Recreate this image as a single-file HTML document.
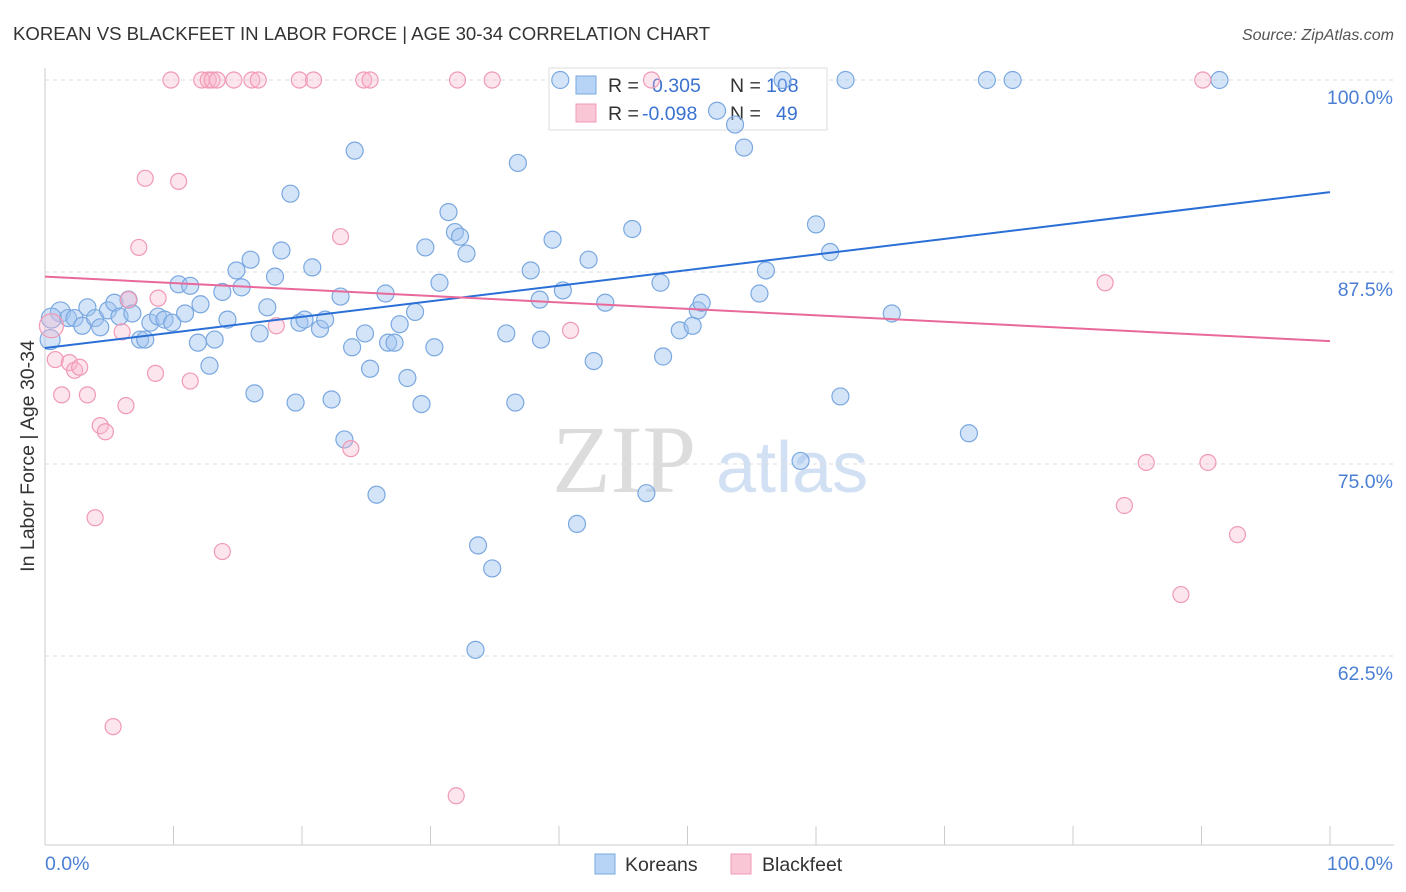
<!DOCTYPE html>
<html><head><meta charset="utf-8"><style>
body{margin:0;background:#fff;}
svg{display:block;font-family:"Liberation Sans",sans-serif;}
</style></head><body>
<svg id="chart" width="1406" height="892" viewBox="0 0 1406 892">
<text x="13" y="40" font-size="18.6" fill="#333">KOREAN VS BLACKFEET IN LABOR FORCE | AGE 30-34 CORRELATION CHART</text>
<text x="1394" y="40" font-size="16" fill="#555" font-style="italic" text-anchor="end">Source: ZipAtlas.com</text>
<g>
<text x="552" y="492" font-size="96" fill="#dcdcdc" font-family="Liberation Serif,serif">ZIP</text>
<text x="716" y="492" font-size="72" fill="#d2e0f4">atlas</text>
</g>
<g id="grid"></g>
<g id="axes"></g>
<g>
<rect x="549" y="68" width="278" height="62" fill="#fff" fill-opacity="0.85" stroke="#ddd"/>
<rect x="576" y="76" width="20" height="18" fill="#b7d3f5" stroke="#7aa8e0"/>
<rect x="576" y="104" width="20" height="18" fill="#f9c6d6" stroke="#f09ab5"/>
<text x="608" y="92" font-size="19.5" fill="#333">R =</text>
<text x="652" y="92" font-size="19.5" fill="#3a72d0">0.305</text>
<text x="730" y="92" font-size="19.5" fill="#333">N =</text>
<text x="766" y="92" font-size="19.5" fill="#3a72d0">108</text>
<text x="608" y="120" font-size="19.5" fill="#333">R =</text>
<text x="642" y="120" font-size="19.5" fill="#3a72d0">-0.098</text>
<text x="730" y="120" font-size="19.5" fill="#333">N =</text>
<text x="776" y="120" font-size="19.5" fill="#3a72d0">49</text>
</g>
<g id="pts"></g>
<g id="trend"></g>
<text x="34" y="456" font-size="19.5" fill="#333" text-anchor="middle" transform="rotate(-90 34 456)">In Labor Force | Age 30-34</text>
<text x="45" y="870" font-size="19.5" fill="#4a7fd4">0.0%</text>
<text x="1393" y="870" font-size="19.5" fill="#4a7fd4" text-anchor="end">100.0%</text>
<g>
<rect x="595" y="854" width="20" height="20" fill="#b7d3f5" stroke="#7aa8e0"/>
<text x="625" y="871" font-size="19.5" fill="#333">Koreans</text>
<rect x="731" y="854" width="20" height="20" fill="#f9c6d6" stroke="#f09ab5"/>
<text x="762" y="871" font-size="19.5" fill="#333">Blackfeet</text>
</g>
</svg>
<script>
const yTicks=[100,87.5,75,62.5];
const yTickLabels=["100.0%","87.5%","75.0%","62.5%"];
const xTicks=[0,10,20,30,40,50,60,70,80,90,100];
const koreanX=[1.2,0.5,0.4,1.8,2.3,2.9,3.3,3.9,4.3,4.9,5.4,5.8,6.5,6.8,7.4,7.8,8.2,8.8,9.3,9.9,10.4,10.9,11.3,11.9,12.1,12.8,13.2,13.8,14.2,14.9,15.3,16.0,16.3,16.7,17.3,17.9,18.4,19.1,19.5,19.8,20.2,20.8,21.4,21.8,22.3,23.0,23.3,23.9,24.1,24.9,25.3,25.8,26.5,26.7,27.2,27.6,28.2,28.8,29.3,29.6,30.3,30.7,31.4,31.9,32.3,32.8,33.7,33.5,34.8,35.9,36.6,36.8,37.8,38.5,38.6,39.5,40.3,41.4,42.3,42.7,43.6,45.7,46.8,47.9,48.1,49.4,50.4,50.8,51.1,52.3,53.7,54.4,55.6,56.1,58.8,60.0,61.1,61.9,62.3,65.9,71.9,73.3,75.3,91.4,40.1,57.4];
const koreanY=[84.9,84.5,83.1,84.5,84.5,84.0,85.2,84.5,83.9,85.0,85.5,84.6,85.7,84.8,83.1,83.1,84.2,84.6,84.4,84.2,86.7,84.8,86.6,82.9,85.4,81.4,83.1,86.2,84.4,87.6,86.5,88.3,79.6,83.5,85.2,87.2,88.9,92.6,79.0,84.2,84.4,87.8,83.8,84.4,79.2,85.9,76.6,82.6,95.4,83.5,81.2,73.0,86.1,82.9,82.9,84.1,80.6,84.9,78.9,89.1,82.6,86.8,91.4,90.1,89.8,88.7,69.7,62.9,68.2,83.5,79.0,94.6,87.6,85.7,83.1,89.6,86.3,71.1,88.3,81.7,85.5,90.3,73.1,86.8,82.0,83.7,84.0,85.0,85.5,98.0,97.1,95.6,86.1,87.6,75.2,90.6,88.8,79.4,100,84.8,77.0,100,100,100,100,100];
const blackfeetX=[0.5,0.8,1.3,1.9,2.3,2.7,3.3,3.9,4.3,4.7,5.3,6.0,6.3,6.5,7.3,7.8,8.6,8.8,9.8,10.4,11.3,12.2,12.7,13.0,13.4,13.8,14.7,16.1,16.6,18.0,19.8,20.9,23.0,23.8,24.8,25.3,32.0,32.1,34.8,40.9,47.2,82.5,84.0,85.7,88.4,90.1,90.5,92.8];
const blackfeetY=[84.0,81.8,79.5,81.6,81.1,81.3,79.5,71.5,77.5,77.1,57.9,83.6,78.8,85.7,89.1,93.6,80.9,85.8,100,93.4,80.4,100,100,100,100,69.3,100,100,100,84.0,100,100,89.8,76.0,100,100,53.4,100,100,83.7,100,86.8,72.3,75.1,66.5,100,75.1,70.4];
const koreanTrend=[82.55,92.7];
const blackfeetTrend=[87.2,83.0];

const NS="http://www.w3.org/2000/svg";
const X0=45,X1=1330;
function sx(v){return X0+(X1-X0)*v/100;}
function sy(v){return 80+(100-v)*15.36;}
function mk(tag,attrs,parent){const e=document.createElementNS(NS,tag);for(const k in attrs)e.setAttribute(k,attrs[k]);parent.appendChild(e);return e;}
const grid=document.getElementById('grid'),axes=document.getElementById('axes'),pts=document.getElementById('pts'),trend=document.getElementById('trend');
yTicks.forEach((t,i)=>{
 const l=mk('line',{x1:X0,x2:1394,y1:sy(t),y2:sy(t),stroke:'#ddd','stroke-dasharray':'4,4'},grid);
 
 
 const tx=mk('text',{x:1393,y:sy(t)+24,'font-size':19.5,fill:'#4a7fd4','text-anchor':'end'},grid);
 tx.textContent=yTickLabels[i];
 
 
});
const ax=mk('line',{x1:X0,x2:X0,y1:68,y2:845,stroke:'#ccc'},axes);


const bx=mk('line',{x1:X0,x2:1394,y1:845,y2:845,stroke:'#ccc'},axes);


xTicks.forEach(t=>{
 const l=mk('line',{x1:sx(t),x2:sx(t),y1:826,y2:845,stroke:'#ccc'},axes);
 
 
});
koreanX.forEach((x,i)=>{
 const c=mk('circle',{cx:sx(x),cy:sy(koreanY[i]),r:(i<3?10:8.5),fill:'rgba(160,196,240,0.45)',stroke:'#7aa8e0','stroke-width':1.2},pts);
 
 
});
blackfeetX.forEach((x,i)=>{
 const c=mk('circle',{cx:sx(x),cy:sy(blackfeetY[i]),r:(i==0?12:8),fill:'rgba(248,180,202,0.35)',stroke:'#f09ab5','stroke-width':1.2},pts);
 
 
});
const tl1=mk('line',{x1:sx(0),x2:sx(100),y1:sy(koreanTrend[0]),y2:sy(koreanTrend[1]),stroke:'#2a6fd6','stroke-width':2},trend);


const tl2=mk('line',{x1:sx(0),x2:sx(100),y1:sy(blackfeetTrend[0]),y2:sy(blackfeetTrend[1]),stroke:'#e8699a','stroke-width':2},trend);


</script>
</body></html>
